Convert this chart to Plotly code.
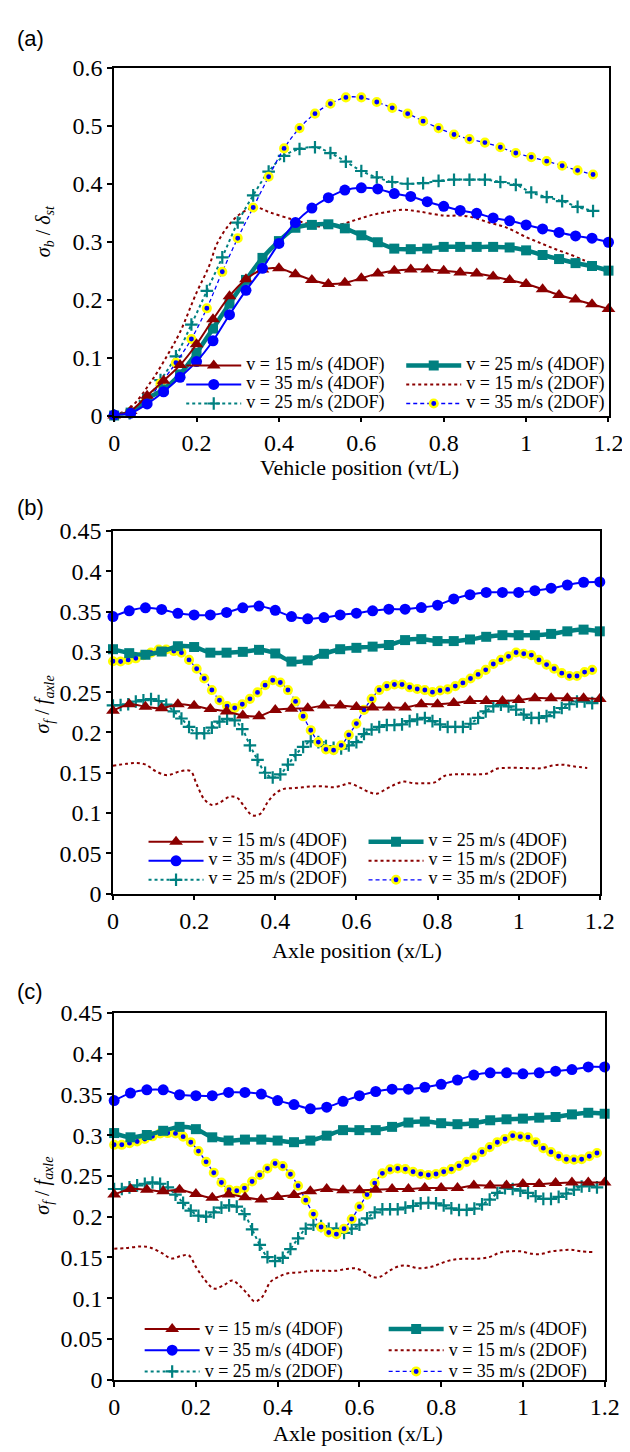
import plotly.graph_objects as go

# ---------------- Data ----------------
X_4DOF = [0, 0.04, 0.08, 0.12, 0.16, 0.2, 0.24, 0.28, 0.32, 0.36, 0.4, 0.44, 0.48, 0.52, 0.56, 0.6,
          0.64, 0.68, 0.72, 0.76, 0.8, 0.84, 0.88, 0.92, 0.96, 1.0, 1.04, 1.08, 1.12, 1.16, 1.2]
X_2DOF_A = [round(k * 0.0375, 4) for k in range(32)]
X_2DOF_BC = [round(k * 0.01875, 5) for k in range(64)]

A_V15_4 = [0, 0.008, 0.034, 0.06, 0.087, 0.123, 0.166, 0.206, 0.235, 0.252, 0.254, 0.244, 0.234, 0.227,
           0.229, 0.237, 0.245, 0.25, 0.252, 0.252, 0.25, 0.247, 0.245, 0.24, 0.234, 0.227, 0.218, 0.208,
           0.2, 0.192, 0.184]
A_V25_4 = [0, 0.005, 0.029, 0.045, 0.071, 0.108, 0.15, 0.193, 0.234, 0.272, 0.301, 0.324, 0.329, 0.33,
           0.323, 0.311, 0.299, 0.288, 0.287, 0.288, 0.291, 0.291, 0.291, 0.291, 0.29, 0.285, 0.277, 0.27,
           0.263, 0.258, 0.25]
A_V35_4 = [0.001, 0.004, 0.02, 0.041, 0.066, 0.093, 0.129, 0.174, 0.216, 0.254, 0.297, 0.333, 0.358, 0.376,
           0.389, 0.393, 0.391, 0.383, 0.378, 0.369, 0.361, 0.354, 0.349, 0.341, 0.336, 0.329, 0.322, 0.316,
           0.31, 0.306, 0.299]
A_V15_2_X = [0, 0.04, 0.09, 0.13, 0.16, 0.2, 0.23, 0.25, 0.28, 0.31, 0.344, 0.38, 0.43, 0.46, 0.5, 0.54,
             0.58, 0.62, 0.66, 0.7, 0.74, 0.8, 0.84, 0.87, 0.91, 0.95, 1.0, 1.04, 1.075, 1.11, 1.14, 1.165]
A_V15_2 = [0, 0.014, 0.059, 0.105, 0.144, 0.212, 0.257, 0.297, 0.33, 0.35, 0.359, 0.35, 0.339, 0.333,
           0.326, 0.328, 0.336, 0.345, 0.351, 0.355, 0.352, 0.345, 0.345, 0.342, 0.333, 0.325, 0.308,
           0.296, 0.286, 0.277, 0.268, 0.262]
A_V25_2 = [0, 0.004, 0.025, 0.061, 0.102, 0.157, 0.215, 0.273, 0.333, 0.38, 0.421, 0.448, 0.46, 0.463,
           0.453, 0.438, 0.422, 0.411, 0.403, 0.4, 0.401, 0.405, 0.407, 0.407, 0.407, 0.403, 0.398, 0.385,
           0.377, 0.37, 0.36, 0.353]
A_V35_2 = [0.001, 0.004, 0.022, 0.055, 0.091, 0.132, 0.185, 0.248, 0.306, 0.359, 0.412, 0.461, 0.496,
           0.521, 0.538, 0.549, 0.549, 0.541, 0.531, 0.521, 0.508, 0.496, 0.485, 0.477, 0.471, 0.463,
           0.453, 0.446, 0.439, 0.431, 0.423, 0.416]

B_V15_4 = [0.227, 0.235, 0.232, 0.23, 0.235, 0.233, 0.229, 0.226, 0.221, 0.22, 0.228, 0.2295, 0.23,
           0.2335, 0.2335, 0.2315, 0.231, 0.231, 0.231, 0.235, 0.235, 0.2364, 0.239, 0.239, 0.239, 0.2404,
           0.2425, 0.2425, 0.2425, 0.2425, 0.2416]
B_V25_4 = [0.3033, 0.2984, 0.2964, 0.3004, 0.307, 0.306, 0.299, 0.299, 0.3, 0.3025, 0.298, 0.288, 0.2895,
           0.2976, 0.3033, 0.305, 0.3065, 0.3085, 0.3146, 0.3158, 0.3134, 0.3134, 0.3154, 0.3187, 0.3207,
           0.3207, 0.3207, 0.3223, 0.3255, 0.3276, 0.3255]
B_V35_4 = [0.3438, 0.351, 0.3547, 0.3527, 0.3479, 0.3458, 0.3458, 0.349, 0.3547, 0.3568, 0.3515, 0.3438,
           0.341, 0.3426, 0.3458, 0.348, 0.351, 0.353, 0.353, 0.355, 0.358, 0.3657, 0.371, 0.3738, 0.3738,
           0.3738, 0.376, 0.379, 0.383, 0.3864, 0.3868]
B_V15_2_X = [0, 0.033, 0.057, 0.081, 0.105, 0.134, 0.167, 0.191, 0.206, 0.225, 0.244, 0.263, 0.287, 0.306,
             0.325, 0.344, 0.363, 0.382, 0.402, 0.421, 0.445, 0.468, 0.492, 0.521, 0.545, 0.569, 0.583,
             0.607, 0.631, 0.65, 0.674, 0.698, 0.717, 0.741, 0.77, 0.793, 0.817, 0.841, 0.87, 0.899, 0.923,
             0.946, 0.97, 0.999, 1.028, 1.056, 1.085, 1.109, 1.133, 1.169]
B_V15_2 = [0.1588, 0.161, 0.162, 0.16, 0.152, 0.147, 0.152, 0.152, 0.136, 0.117, 0.11, 0.113, 0.12, 0.119,
           0.107, 0.097, 0.099, 0.114, 0.125, 0.13, 0.131, 0.132, 0.133, 0.133, 0.132, 0.135, 0.137, 0.132,
           0.126, 0.124, 0.13, 0.136, 0.139, 0.137, 0.137, 0.138, 0.146, 0.148, 0.148, 0.148, 0.149, 0.155,
           0.156, 0.156, 0.1556, 0.1556, 0.159, 0.16, 0.158, 0.156]
B_V25_2 = [0.2335, 0.234, 0.235, 0.2384, 0.24, 0.2413, 0.239, 0.2344, 0.2262, 0.2173, 0.2068, 0.199, 0.199,
           0.206, 0.2133, 0.2169, 0.215, 0.204, 0.184, 0.166, 0.15, 0.144, 0.148, 0.16, 0.172, 0.182, 0.189,
           0.188, 0.183, 0.181, 0.18, 0.184, 0.188, 0.198, 0.2036, 0.2068, 0.2092, 0.2092, 0.21, 0.214,
           0.2161, 0.218, 0.214, 0.21, 0.2068, 0.2068, 0.2068, 0.2108, 0.218, 0.2262, 0.2323, 0.2343, 0.2323,
           0.2283, 0.2222, 0.218, 0.218, 0.2202, 0.225, 0.2303, 0.235, 0.2384, 0.2384, 0.2364]
B_V35_2 = [0.2883, 0.288, 0.29, 0.292, 0.296, 0.299, 0.303, 0.303, 0.301, 0.299, 0.29, 0.279, 0.267, 0.2526,
           0.24, 0.2327, 0.2303, 0.235, 0.2417, 0.2497, 0.2587, 0.2648, 0.262, 0.2526, 0.2385, 0.22, 0.2028,
           0.188, 0.179, 0.178, 0.184, 0.197, 0.211, 0.228, 0.2416, 0.2526, 0.2575, 0.2595, 0.2595, 0.256,
           0.254, 0.2526, 0.25, 0.252, 0.2534, 0.2575, 0.2615, 0.267, 0.272, 0.2777, 0.285, 0.29, 0.2944,
           0.2992, 0.2976, 0.296, 0.29, 0.2842, 0.279, 0.2736, 0.27, 0.27, 0.2749, 0.2777]

C_V15_4 = [0.2271, 0.234, 0.2331, 0.2311, 0.2331, 0.2279, 0.2231, 0.2271, 0.2239, 0.2211, 0.2243, 0.2267,
           0.2311, 0.234, 0.2323, 0.2323, 0.2331, 0.234, 0.234, 0.2351, 0.2351, 0.2351, 0.2383, 0.2383,
           0.2383, 0.24, 0.24, 0.2412, 0.242, 0.242, 0.242]
C_V25_4 = [0.3026, 0.2974, 0.3002, 0.3054, 0.3102, 0.3074, 0.2974, 0.2934, 0.2946, 0.2946, 0.2934, 0.2914,
           0.2934, 0.2994, 0.3062, 0.3062, 0.3062, 0.3102, 0.3155, 0.3167, 0.3147, 0.3135, 0.3147, 0.3183,
           0.3195, 0.3203, 0.3215, 0.3223, 0.3255, 0.3275, 0.3263]
C_V35_4 = [0.3424, 0.3516, 0.3556, 0.3556, 0.3496, 0.3484, 0.3484, 0.3524, 0.3524, 0.3504, 0.3424, 0.3376,
           0.3323, 0.3343, 0.3416, 0.3484, 0.3536, 0.3564, 0.3564, 0.3588, 0.3624, 0.3677, 0.3737, 0.3765,
           0.3765, 0.3753, 0.3765, 0.3785, 0.3805, 0.3837, 0.3837]
C_V15_2_X = [0, 0.03, 0.064, 0.087, 0.116, 0.14, 0.163, 0.182, 0.201, 0.22, 0.244, 0.268, 0.289, 0.306,
             0.325, 0.344, 0.363, 0.382, 0.401, 0.425, 0.453, 0.481, 0.51, 0.543, 0.567, 0.591, 0.614,
             0.633, 0.652, 0.676, 0.7, 0.719, 0.743, 0.776, 0.804, 0.833, 0.861, 0.89, 0.918, 0.942, 0.966,
             0.994, 1.023, 1.047, 1.07, 1.094, 1.118, 1.142, 1.17]
C_V15_2 = [0.1607, 0.1615, 0.1635, 0.1623, 0.1556, 0.1488, 0.1516, 0.1528, 0.1377, 0.1238, 0.1119, 0.1159,
           0.1218, 0.1159, 0.106, 0.096, 0.102, 0.1198, 0.1258, 0.1306, 0.1317, 0.1337, 0.1337, 0.1337,
           0.1357, 0.1365, 0.1317, 0.1258, 0.1266, 0.1345, 0.1397, 0.1397, 0.1369, 0.1385, 0.1437, 0.1476,
           0.1484, 0.1484, 0.1504, 0.1556, 0.1575, 0.1575, 0.1544, 0.1544, 0.1575, 0.1587, 0.1595, 0.1575,
           0.1567]
C_V25_2 = [0.234, 0.234, 0.236, 0.2384, 0.2404, 0.242, 0.2404, 0.236, 0.2271, 0.217, 0.2075, 0.2012, 0.2,
           0.2052, 0.2111, 0.2139, 0.2123, 0.2032, 0.1845, 0.1655, 0.1504, 0.1456, 0.1496, 0.1603, 0.1734,
           0.1853, 0.1901, 0.1885, 0.1853, 0.1853, 0.1802, 0.1853, 0.1901, 0.198, 0.2052, 0.2091, 0.2091,
           0.2091, 0.2111, 0.2131, 0.2163, 0.2171, 0.2163, 0.2139, 0.2103, 0.2083, 0.2083, 0.2099, 0.2151,
           0.221, 0.2291, 0.2351, 0.234, 0.2319, 0.2291, 0.2251, 0.2219, 0.2219, 0.2243, 0.2283, 0.2331,
           0.2371, 0.238, 0.236]
C_V35_2 = [0.2882, 0.2882, 0.2902, 0.2922, 0.2954, 0.2986, 0.3022, 0.3026, 0.3022, 0.2982, 0.2914, 0.2805,
           0.2673, 0.254, 0.242, 0.2331, 0.2319, 0.2351, 0.2432, 0.2512, 0.2592, 0.2653, 0.262, 0.252,
           0.238, 0.2203, 0.2032, 0.1873, 0.1806, 0.1786, 0.1853, 0.1972, 0.2123, 0.2271, 0.2412, 0.2532,
           0.258, 0.2592, 0.2584, 0.2552, 0.2524, 0.2512, 0.2524, 0.2552, 0.2584, 0.2624, 0.2673, 0.2725,
           0.2793, 0.2853, 0.2914, 0.2954, 0.2994, 0.2982, 0.2974, 0.2914, 0.2841, 0.2793, 0.2741, 0.2705,
           0.27, 0.2705, 0.2741, 0.2781]

NAMES = ["v = 15 m/s (4DOF)", "v = 25 m/s (4DOF)", "v = 35 m/s (4DOF)",
         "v = 15 m/s (2DOF)", "v = 25 m/s (2DOF)", "v = 35 m/s (2DOF)"]
X_TICKS = [0, 0.2, 0.4, 0.6, 0.8, 1.0, 1.2]
X_TICKTEXT = ["0", "0.2", "0.4", "0.6", "0.8", "1", "1.2"]
YA_TICKS = [0, 0.1, 0.2, 0.3, 0.4, 0.5, 0.6]
YA_TICKTEXT = ["0", "0.1", "0.2", "0.3", "0.4", "0.5", "0.6"]
YB_TICKS = [0, 0.05, 0.1, 0.15, 0.2, 0.25, 0.3, 0.35, 0.4, 0.45]
YB_TICKTEXT = ["0", "0.05", "0.1", "0.15", "0.2", "0.25", "0.3", "0.35", "0.4", "0.45"]

# ---------------- Styles ----------------
W, H = 630, 1452
DRED, TEAL, BLUE = "#8B0000", "#008080", "#0000FF"
SERIF = "Liberation Serif"
LEG_PX = 18


def px_x(p):
    return p / W


def px_y(p):
    return 1 - p / H


def leg(name):
    return f'<span style="font-size:{LEG_PX}px">{name}</span>'


fig = go.Figure()


def add_panel(idx, legend_name, s15_4, s25_4, s35_4, x15_2, s15_2, x2, s25_2, s35_2):
    xa = "x" if idx == 1 else f"x{idx}"
    ya = "y" if idx == 1 else f"y{idx}"
    common = dict(xaxis=xa, yaxis=ya, legend=legend_name, cliponaxis=False)
    fig.add_trace(go.Scatter(x=x15_2, y=s15_2, mode="lines", name=leg(NAMES[3]), legendrank=4,
                             line=dict(color=DRED, width=2, dash="3px,3px", shape="spline"), **common))
    fig.add_trace(go.Scatter(x=x2, y=s25_2, mode="lines+markers", name=leg(NAMES[4]), legendrank=5,
                             line=dict(color=TEAL, width=2, dash="3px,3px", shape="spline"),
                             marker=dict(symbol="cross-thin", size=9, color=TEAL,
                                         line=dict(color=TEAL, width=2.2)), **common))
    fig.add_trace(go.Scatter(x=x2, y=s35_2, mode="lines+markers", name=leg(NAMES[5]), legendrank=6,
                             line=dict(color=BLUE, width=1.3, dash="4px,3px", shape="spline"),
                             marker=dict(symbol="circle", size=7.5, color=BLUE,
                                         line=dict(color="#FFFF00", width=2.6)), **common))
    fig.add_trace(go.Scatter(x=X_4DOF, y=s25_4, mode="lines+markers", name=leg(NAMES[1]), legendrank=2,
                             line=dict(color=TEAL, width=4.5, shape="spline", smoothing=0.8),
                             marker=dict(symbol="square", size=10, color=TEAL), **common))
    fig.add_trace(go.Scatter(x=X_4DOF, y=s15_4, mode="lines+markers", name=leg(NAMES[0]), legendrank=1,
                             line=dict(color=DRED, width=2, shape="spline", smoothing=0.8),
                             marker=dict(symbol="triangle-up", size=12, color=DRED), **common))
    fig.add_trace(go.Scatter(x=X_4DOF, y=s35_4, mode="lines+markers", name=leg(NAMES[2]), legendrank=3,
                             line=dict(color=BLUE, width=2, shape="spline", smoothing=0.8),
                             marker=dict(symbol="circle", size=11, color=BLUE), **common))


add_panel(1, "legend", A_V15_4, A_V25_4, A_V35_4, A_V15_2_X, A_V15_2, X_2DOF_A, A_V25_2, A_V35_2)
add_panel(2, "legend2", B_V15_4, B_V25_4, B_V35_4, B_V15_2_X, B_V15_2, X_2DOF_BC, B_V25_2, B_V35_2)
add_panel(3, "legend3", C_V15_4, C_V25_4, C_V35_4, C_V15_2_X, C_V15_2, X_2DOF_BC, C_V25_2, C_V35_2)

axis_common = dict(showline=True, linecolor="black", linewidth=1.6, mirror=True, ticks="outside",
                   ticklen=5, tickwidth=1.5, tickcolor="black", showgrid=False, zeroline=False,
                   tickfont=dict(family=SERIF, size=24, color="black"))

panels = {
    1: dict(xd=(103.6, 615), yd=(47.7, 401.7), yr=(0, 0.6), yt=(YA_TICKS, YA_TICKTEXT)),
    2: dict(xd=(102.4, 606), yd=(519.3, 888.5), yr=(0, 0.45), yt=(YB_TICKS, YB_TICKTEXT)),
    3: dict(xd=(103.6, 611), yd=(1010, 1383.5), yr=(0, 0.45), yt=(YB_TICKS, YB_TICKTEXT)),
}
layout = {}
for i, p in panels.items():
    xk = "xaxis" if i == 1 else f"xaxis{i}"
    yk = "yaxis" if i == 1 else f"yaxis{i}"
    ya = "y" if i == 1 else f"y{i}"
    xa = "x" if i == 1 else f"x{i}"
    layout[xk] = dict(axis_common, domain=[px_x(p["xd"][0]), px_x(p["xd"][1])], range=[0, 1.2],
                      anchor=ya, tickvals=X_TICKS, ticktext=X_TICKTEXT)
    layout[yk] = dict(axis_common, domain=[px_y(p["yd"][1]), px_y(p["yd"][0])], range=list(p["yr"]),
                      anchor=xa, tickvals=p["yt"][0], ticktext=p["yt"][1])

legend_common = dict(orientation="h", entrywidthmode="pixels", bgcolor="rgba(0,0,0,0)",
                     itemwidth=55, xanchor="left", yanchor="top", traceorder="normal", tracegroupgap=0)
layout["legend"] = dict(legend_common, x=px_x(173), y=px_y(336), entrywidth=150,
                        font=dict(family=SERIF, size=12, color="black"))
layout["legend2"] = dict(legend_common, x=px_x(134), y=px_y(821), entrywidth=150,
                         font=dict(family=SERIF, size=12, color="black"))
layout["legend3"] = dict(legend_common, x=px_x(130), y=px_y(1316), entrywidth=174,
                         font=dict(family=SERIF, size=14, color="black"))

annotations = []
for label, ypx in (("(a)", 18), ("(b)", 495), ("(c)", 988)):
    annotations.append(dict(text=label, x=px_x(1), y=px_y(ypx), xref="paper", yref="paper",
                            xanchor="left", yanchor="middle", showarrow=False,
                            font=dict(family="Liberation Sans", size=22, color="black")))
for text, xpx, ypx in (("Vehicle position (vt/L)", 357, 455), ("Axle position (x/L)", 355, 946),
                       ("Axle position (x/L)", 356, 1438)):
    annotations.append(dict(text=text, x=px_x(xpx), y=px_y(ypx), xref="paper", yref="paper",
                            xanchor="center", yanchor="middle", showarrow=False,
                            font=dict(family=SERIF, size=22, color="black")))
for text, ypx in (("<i>σ<sub>b</sub></i> / <i>δ<sub>st</sub></i>", 214),
                  ("<i>σ<sub>f</sub></i> / <i>f<sub>axle</sub></i>", 696),
                  ("<i>σ<sub>f</sub></i> / <i>f<sub>axle</sub></i>", 1186)):
    annotations.append(dict(text=text, x=px_x(31), y=px_y(ypx), xref="paper", yref="paper",
                            xanchor="center", yanchor="middle", showarrow=False, textangle=-90,
                            font=dict(family=SERIF, size=20, color="black")))

fig.update_layout(width=W, height=H, margin=dict(l=0, r=0, t=0, b=0), paper_bgcolor="white",
                  plot_bgcolor="white", annotations=annotations, showlegend=True, **layout)

fig.write_html("out.html")
